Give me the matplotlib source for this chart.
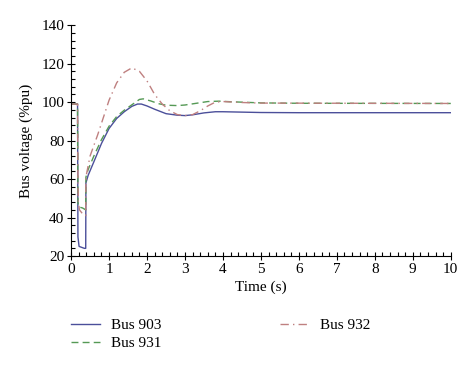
import matplotlib.pyplot as plt
from matplotlib.ticker import MultipleLocator

plt.rcParams['font.family'] = ['Liberation Serif', 'DejaVu Serif']

# Bus 903 (solid)
t_903 = [0, 0.17, 0.18, 0.21, 0.35, 0.385, 0.39, 0.45, 0.6, 0.8, 1.0, 1.2, 1.4, 1.6,
         1.75, 1.85, 2.0, 2.2, 2.5, 2.8, 3.0, 3.2, 3.5, 3.8, 4.0, 4.5, 5.0, 6.0, 10.0]
v_903 = [99, 99, 30, 25, 24, 24, 58, 62, 69, 78.5, 86.3, 91.5, 95, 97.8,
         99, 99, 98, 96.3, 94, 93.2, 93, 93.4, 94.4, 95, 95, 94.8, 94.6, 94.5, 94.5]

# Bus 931 (dashed)
t_931 = [0, 0.17, 0.18, 0.2, 0.3, 0.385, 0.39, 0.45, 0.6, 0.8, 1.0, 1.2, 1.4, 1.6,
         1.8, 1.9, 2.1, 2.3, 2.5, 2.8, 3.0, 3.3, 3.6, 3.9, 4.2, 5.0, 6.0, 10.0]
v_931 = [99, 99, 48, 45.5, 45, 44, 61, 65, 72, 80.5, 87.5, 92.5, 95.8, 98.6,
         101.4, 101.7, 100.6, 99.2, 98.4, 98.2, 98.5, 99.4, 100.3, 100.5, 100.2, 99.6, 99.4, 99.3]

# Bus 932 (dash-dot)
t_932 = [0, 0.17, 0.18, 0.19, 0.22, 0.3, 0.385, 0.39, 0.5, 0.7, 0.85, 1.0, 1.2, 1.4,
         1.6, 1.8, 2.0, 2.2, 2.4, 2.6, 2.8, 3.0, 3.2, 3.4, 3.6, 3.8, 4.0, 4.5, 5.0, 10.0]
v_932 = [99, 99, 60, 48, 44, 42, 41, 61, 72, 83, 92, 101, 110, 115.5,
         117.8, 116, 111, 104, 99, 95.5, 93.5, 93, 93.5, 95.5, 98, 100, 100.3, 99.8, 99.5, 99.3]

fig = plt.figure(figsize=(4.74, 3.70), dpi=100)
ax = fig.add_axes([0.150, 0.308, 0.801, 0.624])

ax.plot(t_903, v_903, color='#4b4f9a', lw=1.0, label='Bus 903')
ax.plot(t_931, v_931, color='#559955', lw=1.0, ls=(0, (5, 3)), label='Bus 931')
ax.plot(t_932, v_932, color='#bf8080', lw=1.0, ls=(0, (6, 3, 1, 3)), label='Bus 932')

ax.set_xlim(0, 10)
ax.set_ylim(20, 140)
ax.xaxis.set_major_locator(MultipleLocator(1))
ax.xaxis.set_minor_locator(MultipleLocator(0.2))
ax.yaxis.set_major_locator(MultipleLocator(20))
ax.yaxis.set_minor_locator(MultipleLocator(4))
ax.tick_params(which='major', direction='inout', length=6, width=0.8, labelsize=11, pad=2)
ax.tick_params(which='minor', direction='in', length=3, width=0.8)

for side in ['top', 'right']:
    ax.spines[side].set_visible(False)

ax.set_xlabel('Time (s)', fontsize=11, labelpad=3)
ax.set_ylabel('Bus voltage (%pu)', fontsize=11, labelpad=6)

fig.legend(loc='upper left', bbox_to_anchor=(0.137, 0.155), ncol=2, frameon=False,
           fontsize=11, handlelength=1.9, handletextpad=0.7, columnspacing=7.8,
           labelspacing=0.25, borderaxespad=0)

fig.savefig('out.png', dpi=100, facecolor='white')
